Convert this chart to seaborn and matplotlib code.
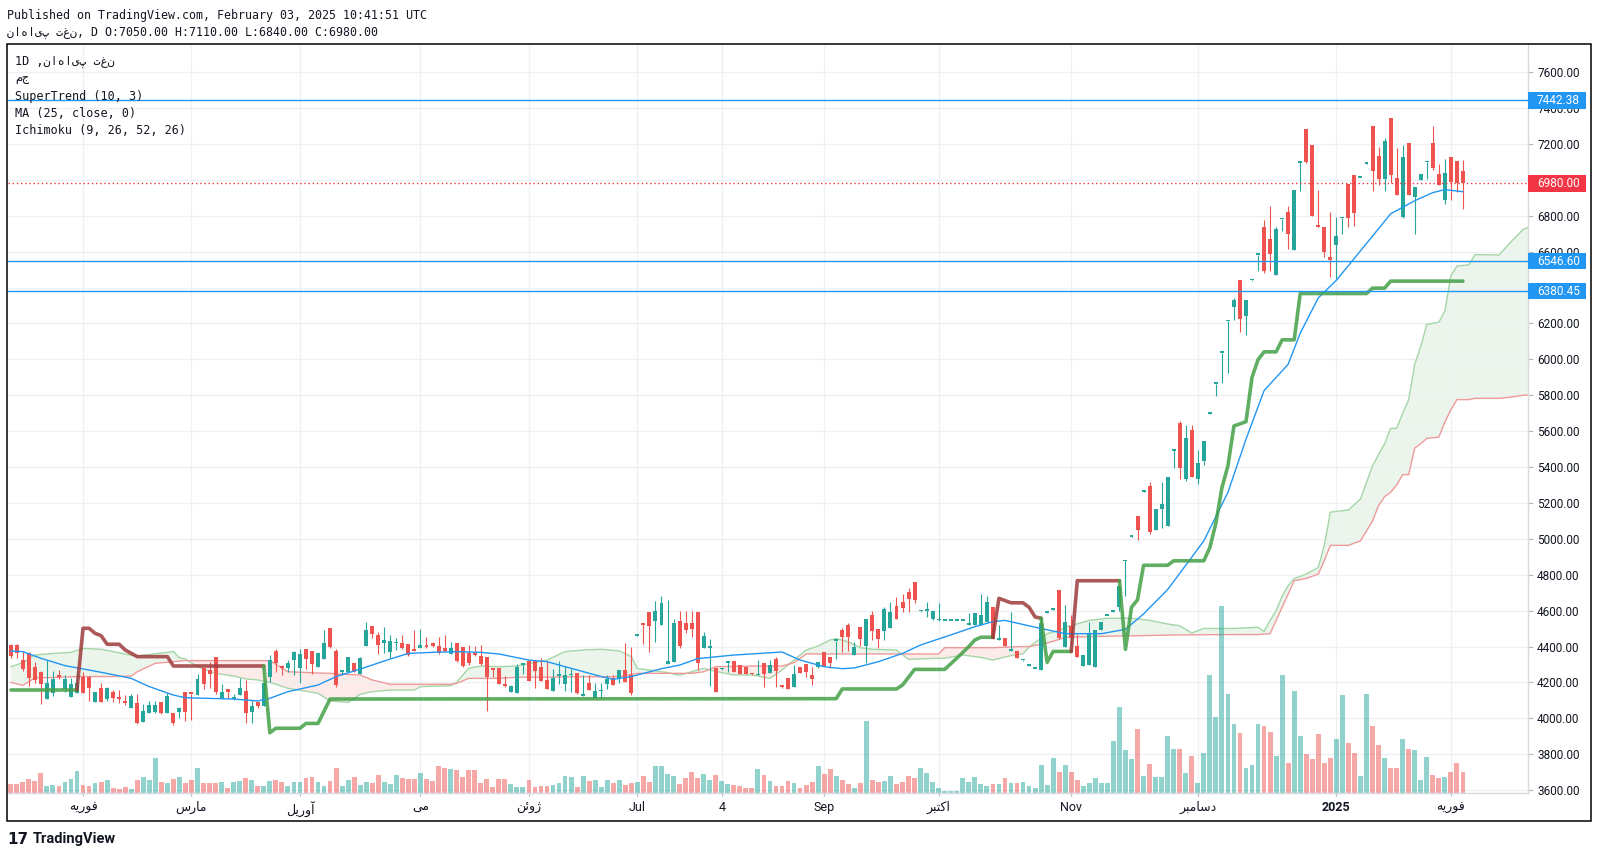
import numpy as np
import matplotlib
matplotlib.use("Agg")
import matplotlib.pyplot as plt
import seaborn as sns
from matplotlib.patches import Rectangle
from matplotlib.transforms import blended_transform_factory

# ---------------- data (daily bars, index 0..241) ----------------
opens = [4409, 4409, 4325, 4364, 4286, 4259, 4110, 4143, 4242, 4162,
         4121, 4142, 4233, 4233, 4089, 4168, 4110, 4145, 4114, 4090,
         4056, 4084, 3978, 4028, 4037, 4091, 4028, 4030, 4037, 4145,
         4138, 4130, 4283, 4270, 4340, 4110, 4162, 4108, 4132, 4153,
         4037, 4091, 4071, 4233, 4374, 4285, 4283, 4325, 4279, 4387,
         4374, 4288, 4331, 4504, 4375, 4257, 4257, 4307, 4247, 4405,
         4515, 4465, 4418, 4372, 4418, 4418, 4413, 4388, 4390, 4409,
         4418, 4403, 4390, 4357, 4418, 4400, 4366, 4355, 4348, 4340,
         4283, 4283, 4183, 4145, 4140, 4300, 4318, 4318, 4285, 4214,
         4154, 4238, 4192, 4240, 4251, 4125, 4197, 4114, 4150, 4191,
         4223, 4218, 4270, 4242, 4461, 4530, 4593, 4544, 4522, 4305,
         4316, 4543, 4533, 4533, 4593, 4392, 4393, 4281, 4273, 4307,
         4320, 4296, 4288, 4247, 4240, 4307, 4255, 4329, 4178, 4225,
         4177, 4285, 4301, 4240, 4288, 4370, 4344, 4431, 4492, 4520,
         4355, 4511, 4403, 4576, 4498, 4489, 4505, 4626, 4648, 4702,
         4760, 4596, 4600, 4552, 4546, 4541, 4541, 4541, 4541, 4518,
         4518, 4520, 4539, 4619, 4436, 4447, 4378, 4373, 4323, 4293,
         4274, 4270, 4588, 4606, 4718, 4398, 4514, 4403, 4294, 4299,
         4287, 4491, 4569, 4594, 4619, 4875, 5012, 5129, 5263, 5294,
         5050, 5166, 5070, 5490, 5646, 5333, 5609, 5333, 5432, 5696,
         5862, 6035, 6212, 6293, 6441, 6239, 6440, 6581, 6737, 6670,
         6471, 6780, 6823, 6609, 7096, 7283, 7192, 6744, 6737, 6572,
         6638, 6785, 6978, 7027, 7011, 7090, 7303, 7131, 7007, 7345,
         7012, 6796, 7204, 6904, 7002, 7098, 7204, 7032, 6889, 7126,
         7106, 7050]
highs = [4415, 4412, 4375, 4370, 4316, 4262, 4325, 4264, 4268, 4242,
         4223, 4264, 4257, 4236, 4147, 4195, 4175, 4158, 4158, 4130,
         4136, 4134, 4078, 4097, 4097, 4091, 4143, 4030, 4065, 4145,
         4138, 4246, 4283, 4316, 4340, 4190, 4162, 4138, 4223, 4214,
         4102, 4091, 4195, 4351, 4387, 4298, 4325, 4375, 4385, 4387,
         4374, 4372, 4494, 4504, 4386, 4264, 4342, 4307, 4344, 4535,
         4515, 4479, 4507, 4465, 4446, 4465, 4413, 4493, 4498, 4455,
         4424, 4455, 4464, 4427, 4418, 4400, 4409, 4405, 4409, 4340,
         4283, 4283, 4236, 4186, 4303, 4303, 4318, 4325, 4335, 4320,
         4275, 4320, 4292, 4277, 4251, 4240, 4240, 4195, 4195, 4240,
         4240, 4270, 4418, 4400, 4466, 4530, 4593, 4654, 4682, 4660,
         4552, 4598, 4598, 4598, 4593, 4483, 4440, 4281, 4280, 4320,
         4320, 4296, 4288, 4248, 4325, 4307, 4325, 4344, 4180, 4225,
         4296, 4285, 4301, 4288, 4316, 4370, 4344, 4433, 4502, 4533,
         4427, 4511, 4554, 4600, 4498, 4622, 4650, 4675, 4691, 4725,
         4760, 4600, 4647, 4600, 4641, 4543, 4543, 4543, 4543, 4589,
         4589, 4693, 4682, 4619, 4520, 4447, 4590, 4373, 4326, 4296,
         4277, 4558, 4600, 4612, 4718, 4632, 4575, 4472, 4353, 4538,
         4491, 4538, 4572, 4597, 4735, 4880, 5015, 5129, 5266, 5318,
         5168, 5318, 5346, 5493, 5658, 5636, 5633, 5498, 5547, 5699,
         5864, 6037, 6214, 6343, 6441, 6330, 6443, 6584, 6774, 6852,
         6737, 6784, 6852, 6941, 7098, 7283, 7192, 6941, 6737, 6823,
         6791, 6787, 6978, 7027, 7013, 7092, 7303, 7185, 7234, 7345,
         7175, 7192, 7204, 6963, 7032, 7100, 7303, 7089, 7118, 7126,
         7106, 7110]
lows = [4335, 4335, 4264, 4180, 4195, 4082, 4110, 4127, 4220, 4149,
        4121, 4142, 4143, 4097, 4089, 4093, 4097, 4093, 4084, 4075,
        4056, 3967, 3978, 4028, 4028, 4022, 4028, 3963, 4004, 3985,
        3991, 4130, 4162, 4167, 4138, 4110, 4112, 4101, 4132, 3976,
        3976, 4060, 4071, 4201, 4260, 4242, 4257, 4242, 4195, 4275,
        4247, 4288, 4331, 4394, 4177, 4242, 4257, 4257, 4247, 4405,
        4450, 4357, 4362, 4335, 4381, 4387, 4349, 4375, 4390, 4394,
        4400, 4357, 4372, 4357, 4316, 4288, 4297, 4347, 4297, 4043,
        4233, 4193, 4175, 4145, 4140, 4245, 4208, 4171, 4208, 4166,
        4154, 4192, 4155, 4147, 4136, 4125, 4158, 4114, 4114, 4162,
        4186, 4196, 4205, 4130, 4458, 4414, 4372, 4427, 4522, 4305,
        4316, 4394, 4478, 4455, 4270, 4392, 4182, 4149, 4270, 4260,
        4260, 4249, 4245, 4244, 4240, 4173, 4255, 4173, 4172, 4162,
        4177, 4255, 4232, 4186, 4279, 4292, 4279, 4329, 4372, 4377,
        4355, 4403, 4310, 4437, 4390, 4437, 4505, 4552, 4595, 4595,
        4641, 4594, 4567, 4550, 4545, 4540, 4540, 4540, 4540, 4518,
        4518, 4520, 4539, 4442, 4434, 4405, 4375, 4336, 4322, 4292,
        4273, 4270, 4588, 4606, 4442, 4398, 4410, 4344, 4294, 4299,
        4287, 4491, 4568, 4593, 4600, 4680, 5011, 4996, 5262, 5030,
        5050, 5062, 5070, 5395, 5333, 5321, 5343, 5304, 5410, 5695,
        5796, 5870, 5924, 6220, 6151, 6138, 6439, 6490, 6483, 6490,
        6471, 6717, 6613, 6609, 6938, 7094, 6798, 6735, 6572, 6458,
        6446, 6700, 6737, 6744, 7010, 7089, 6938, 6971, 6938, 6983,
        6914, 6786, 6914, 6700, 7002, 7007, 7057, 6971, 6865, 6889,
        6933, 6840]
closes = [4348, 4366, 4277, 4227, 4214, 4192, 4197, 4220, 4231, 4220,
          4192, 4197, 4143, 4171, 4147, 4093, 4168, 4114, 4110, 4088,
          4127, 3973, 4041, 4075, 4075, 4028, 4125, 3973, 4056, 4037,
          4135, 4220, 4190, 4249, 4147, 4147, 4145, 4119, 4168, 4032,
          4069, 4071, 4195, 4323, 4310, 4283, 4307, 4368, 4357, 4329,
          4303, 4362, 4418, 4400, 4186, 4264, 4342, 4260, 4336, 4492,
          4468, 4409, 4437, 4431, 4420, 4390, 4353, 4377, 4409, 4400,
          4405, 4362, 4375, 4394, 4320, 4294, 4307, 4353, 4301, 4233,
          4270, 4193, 4182, 4180, 4288, 4303, 4208, 4266, 4208, 4166,
          4225, 4240, 4240, 4245, 4143, 4132, 4158, 4151, 4151, 4218,
          4186, 4270, 4205, 4143, 4463, 4518, 4517, 4598, 4643, 4320,
          4530, 4403, 4492, 4500, 4310, 4459, 4395, 4149, 4276, 4320,
          4260, 4249, 4245, 4245, 4242, 4247, 4296, 4266, 4176, 4162,
          4247, 4255, 4260, 4218, 4316, 4292, 4307, 4431, 4455, 4452,
          4396, 4442, 4554, 4489, 4440, 4610, 4595, 4552, 4617, 4665,
          4658, 4598, 4602, 4598, 4547, 4541, 4541, 4541, 4541, 4533,
          4585, 4576, 4648, 4442, 4437, 4405, 4380, 4336, 4324, 4294,
          4275, 4533, 4590, 4607, 4447, 4538, 4447, 4344, 4353, 4472,
          4491, 4538, 4570, 4595, 4735, 4878, 5013, 5050, 5264, 5038,
          5168, 5195, 5346, 5493, 5395, 5562, 5343, 5424, 5547, 5697,
          5862, 6035, 6212, 6330, 6227, 6330, 6441, 6582, 6495, 6589,
          6724, 6782, 6700, 6941, 7096, 7101, 6798, 6740, 6596, 6552,
          6687, 6786, 6786, 6818, 7012, 7091, 7049, 7007, 7217, 7027,
          6914, 7126, 6914, 6963, 7032, 7099, 7064, 6971, 7039, 6988,
          6983, 6980]
# volume, relative units (bar heights)
volume = [9, 9, 11, 14, 12, 20, 7, 8, 7, 11, 14, 22, 8, 7, 10, 11, 13, 5, 4, 6,
          4, 13, 16, 13, 35, 11, 10, 14, 16, 10, 13, 25, 10, 10, 10, 11, 5, 11, 12, 15,
          13, 7, 7, 12, 13, 11, 7, 11, 11, 15, 16, 11, 7, 12, 25, 7, 13, 16, 8, 11,
          10, 18, 11, 9, 18, 15, 14, 14, 20, 14, 12, 27, 25, 24, 23, 16, 23, 23, 10, 14,
          6, 14,
          14, 9, 6, 6, 13, 6, 7, 7, 8, 10, 17, 16, 6, 17, 12, 13, 6, 13, 10, 13,
          8, 10, 11, 17, 11, 27, 27, 19, 17, 9, 15, 21, 15, 19, 13, 18, 12, 9, 8, 7,
          5, 5, 24, 18, 12, 7, 7, 12, 10, 5, 8, 11, 27, 19, 24, 17, 13, 9, 5, 10,
          72, 13, 11, 12, 17, 9, 11, 17, 15, 25, 20, 11, 5, 2, 2, 2, 15, 11, 16, 9,
          7, 9, 9,
          15, 10, 10, 11, 7, 5, 28, 8, 35, 21, 28, 21, 13, 7, 10, 15, 10, 10, 52, 86,
          43, 34, 64, 17, 29, 16, 16, 57, 44, 44, 20, 37, 10, 40, 118, 76, 187, 99, 69, 60,
          25, 28, 69, 67, 61, 37, 118, 30, 102, 57, 39, 34, 59, 30, 35, 54, 98, 50, 40, 17,
          99, 67, 48, 35, 25, 25, 54, 44, 43, 13, 36, 18, 15, 16, 21, 30, 21]

# MA (25, close) read at bar positions
ma_bar = [0, 2, 5, 9, 15, 20, 23, 27, 29, 37, 41, 43, 46, 51, 54, 58, 63, 66, 70, 74,
          78, 81, 86, 89, 93, 98, 100, 103, 108, 111, 114, 120, 123, 128, 131, 135, 138, 140, 144, 148,
          151, 156, 160, 163, 165, 170, 175, 181, 185, 188, 192, 195, 198, 202, 205, 208, 212, 214, 217, 220,
          223, 226, 229, 233, 236, 238, 241]
ma_val = [4375, 4372, 4335, 4294, 4257, 4223, 4177, 4130, 4115, 4108, 4097, 4112, 4149, 4186, 4233, 4275, 4331, 4362, 4368, 4372,
          4368, 4359, 4325, 4316, 4279, 4233, 4218, 4233, 4277, 4297, 4333, 4353, 4359, 4370, 4325, 4288, 4277, 4281, 4316, 4362,
          4409, 4465, 4511, 4539, 4546, 4508, 4472, 4472, 4496, 4582, 4718, 4853, 4989, 5259, 5555, 5826, 5973, 6146, 6343, 6441,
          6564, 6687, 6811, 6884, 6929, 6946, 6934]

# SuperTrend (10, 3): turning points, direction 1 = up (green), -1 = down (red)
st_bar = [0, 11, 12, 13, 14, 15, 16, 18, 19, 21, 26, 27, 42, 43, 44, 48, 49, 51, 53, 137,
          138, 147, 148, 150, 155, 157, 159, 160, 161, 163, 164, 166, 168, 169, 170, 171, 172, 173, 176, 177,
          184, 185, 186, 187, 188, 192, 193, 198, 199, 200, 201, 202, 203, 205, 206, 207, 208, 210, 211, 213,
          214, 225, 226, 228, 229, 241]
st_val = [4160, 4160, 4502, 4502, 4474, 4461, 4413, 4413, 4381, 4344, 4344, 4292, 4292, 3920, 3945, 3945, 3972, 3972, 4108, 4110,
          4164, 4164, 4186, 4273, 4273, 4335, 4400, 4437, 4452, 4452, 4669, 4644, 4644, 4619, 4565, 4558, 4312, 4373, 4373, 4767,
          4767, 4385, 4619, 4661, 4853, 4853, 4878, 4878, 4952, 5087, 5284, 5407, 5629, 5653, 5900, 5998, 6042, 6042, 6109, 6109,
          6367, 6367, 6397, 6397, 6436, 6436]
st_dir = [1, 1, -1, -1, -1, -1, -1, -1, -1, -1, -1, -1, -1, 1, 1, 1, 1, 1, 1, 1,
          1, 1, 1, 1, 1, 1, 1, 1, 1, 1, -1, -1, -1, -1, -1, -1, 1, 1, 1, -1,
          -1, 1, 1, 1, 1, 1, 1, 1, 1, 1, 1, 1, 1, 1, 1, 1, 1, 1, 1, 1,
          1, 1, 1, 1, 1, 1]

# Ichimoku (9, 26, 52, 26) leading spans, already shifted 26 bars ahead
cloud_bar = [0, 2, 4, 7, 10, 12, 15, 17, 20, 21, 24, 27, 28, 29, 31, 34, 37, 39, 41, 43,
             46, 51, 53, 56, 58, 60, 63, 67, 68, 73, 74, 76, 78, 81, 84, 89, 92, 95, 98, 101,
             103, 104, 106, 109, 111, 113, 115, 117, 120, 123, 126, 128, 130, 132, 134, 136, 137, 139, 141, 143,
             147, 149, 154, 155, 158, 161, 163, 166, 168, 169, 172, 174, 175, 179, 182, 186, 189, 192, 194, 196,
             198, 203, 207, 208, 209, 210, 211, 212, 213, 215, 217, 218, 219, 222, 224, 226, 227, 228, 229, 230,
             231, 232, 233, 234, 235, 237, 238, 239, 240, 242, 243, 247, 249, 251, 252]
span_a = [4288, 4310, 4353, 4362, 4368, 4390, 4385, 4372, 4352, 4348, 4360, 4372, 4338, 4331, 4288, 4251, 4236, 4220, 4214, 4201,
          4168, 4140, 4097, 4089, 4134, 4149, 4158, 4158, 4177, 4182, 4201, 4279, 4292, 4288, 4292, 4325, 4372, 4381, 4385, 4376,
          4344, 4277, 4270, 4255, 4240, 4260, 4279, 4262, 4242, 4242, 4223, 4270, 4325, 4381, 4403, 4437, 4444, 4427, 4394, 4385,
          4381, 4329, 4335, 4335, 4353, 4340, 4325, 4350, 4360, 4398, 4472, 4490, 4508, 4546, 4558, 4558, 4546, 4526, 4516, 4476,
          4501, 4501, 4508, 4484, 4546, 4600, 4681, 4740, 4779, 4804, 4841, 4964, 5149, 5161, 5222, 5407, 5470, 5530, 5616, 5616,
          5700, 5776, 5973, 6072, 6195, 6207, 6269, 6466, 6520, 6527, 6584, 6582, 6656, 6725, 6736]
span_b = [4201, 4184, 4225, 4228, 4232, 4233, 4233, 4233, 4236, 4260, 4307, 4316, 4320, 4322, 4322, 4322, 4322, 4322, 4322, 4322,
          4260, 4253, 4251, 4245, 4242, 4214, 4190, 4190, 4190, 4190, 4195, 4223, 4223, 4223, 4229, 4230, 4231, 4232, 4232, 4233,
          4245, 4251, 4251, 4251, 4251, 4251, 4260, 4288, 4290, 4292, 4292, 4292, 4310, 4359, 4359, 4359, 4359, 4359, 4359, 4359,
          4359, 4359, 4359, 4394, 4394, 4394, 4394, 4398, 4400, 4400, 4420, 4440, 4452, 4455, 4458, 4460, 4462, 4464, 4465, 4466,
          4466, 4467, 4467, 4470, 4472, 4546, 4620, 4693, 4767, 4780, 4804, 4880, 4964, 4964, 4989, 5100, 5186, 5235, 5260, 5300,
          5358, 5358, 5506, 5530, 5560, 5567, 5650, 5720, 5776, 5776, 5783, 5783, 5790, 5800, 5802]

drawn_levels = [7442.38, 6546.60, 6380.45]
price_ticks = list(range(3600, 7601, 200))
month_bars = [12, 30, 48, 68, 86, 104, 118, 135, 154, 176, 197, 220, 239]
month_labels = ["فوریه", "مارس", "آوریل", "می", "ژوئن", "Jul", "4", "Sep",
                "اکتبر", "Nov", "دسامبر", "2025", "فوریه"]
ticker = "ناهایپ تغن"

# ---------------- simple Persian shaping (matplotlib has no bidi/shaping) ----------------
FORMS = {  # isolated, final, initial, medial
    'ا': (0xFE8D, 0xFE8E, None, None), 'آ': (0xFE81, 0xFE82, None, None),
    'ب': (0xFE8F, 0xFE90, 0xFE91, 0xFE92), 'ت': (0xFE95, 0xFE96, 0xFE97, 0xFE98),
    'د': (0xFEA9, 0xFEAA, None, None), 'ر': (0xFEAD, 0xFEAE, None, None),
    'ژ': (0xFB8A, 0xFB8B, None, None), 'س': (0xFEB1, 0xFEB2, 0xFEB3, 0xFEB4),
    'ف': (0xFED1, 0xFED2, 0xFED3, 0xFED4), 'ک': (0xFB8E, 0xFB8F, 0xFB90, 0xFB91),
    'ل': (0xFEDD, 0xFEDE, 0xFEDF, 0xFEE0), 'م': (0xFEE1, 0xFEE2, 0xFEE3, 0xFEE4),
    'ن': (0xFEE5, 0xFEE6, 0xFEE7, 0xFEE8), 'و': (0xFEED, 0xFEEE, None, None),
    'ه': (0xFEE9, 0xFEEA, 0xFEEB, 0xFEEC), 'ی': (0xFBFC, 0xFBFD, 0xFBFE, 0xFBFF),
    'ئ': (0xFE89, 0xFE8A, 0xFE8B, 0xFE8C),
}


def shape(word):
    if not any(ch in FORMS for ch in word):
        return word
    out = []
    for i, ch in enumerate(word):
        f = FORMS.get(ch)
        if f is None:
            out.append(ch)
            continue
        prev = FORMS.get(word[i - 1]) if i > 0 else None
        nxt = word[i + 1] if i + 1 < len(word) else None
        jp = prev is not None and prev[2] is not None
        jn = nxt in FORMS and f[2] is not None
        cp = f[3] if (jp and jn) else f[1] if jp else f[2] if jn else f[0]
        out.append(chr(cp))
    return ''.join(reversed(out))


# ---------------- style ----------------
sns.set_theme(style="white")
plt.rcParams['font.family'] = ['Roboto', 'DejaVu Sans']
UP, DOWN = '#26A69A', '#EF5350'
TXT = '#131722'
MONO = ['DejaVu Sans Mono', 'DejaVu Sans']

W, H = 1598, 858
fig = plt.figure(figsize=(W / 100, H / 100), dpi=100)
fig.patch.set_facecolor('white')


def fx(px):
    return px / W


def fy(py):
    return 1 - py / H


ax = fig.add_axes([fx(8), fy(793), fx(1528) - fx(8), fy(44) - fy(793)])
ax.set_facecolor('white')

bars = np.arange(len(closes))
o = np.array(opens, float)
c = np.array(closes, float)
up = c >= o
cols = np.where(up, UP, DOWN)

# ichimoku cloud
a = np.array(span_a, float)
b = np.array(span_b, float)
ax.fill_between(cloud_bar, a, b, where=a >= b, interpolate=True, color='#43A047', alpha=0.1, lw=0, zorder=0.5)
ax.fill_between(cloud_bar, a, b, where=a < b, interpolate=True, color='#F44336', alpha=0.1, lw=0, zorder=0.5)
sns.lineplot(x=cloud_bar, y=span_a, ax=ax, color='#A5D6A7', lw=1, estimator=None, sort=False, zorder=0.6)
sns.lineplot(x=cloud_bar, y=span_b, ax=ax, color='#EF9A9A', lw=1, estimator=None, sort=False, zorder=0.6)

# volume overlay in the bottom of the pane
vol_top = 749.0
vtrans = blended_transform_factory(ax.transData, ax.transAxes)
ax.bar(bars, np.array(volume) / vol_top, width=0.8, bottom=0, color=cols, alpha=0.5,
       transform=vtrans, zorder=1, lw=0)

# candles
ax.vlines(bars, lows, highs, colors=cols, lw=0.8, zorder=3)
body = np.maximum(np.abs(c - o), 10)
ax.bar(bars, body, bottom=np.minimum(o, c), width=0.66, color=cols, lw=0, zorder=3.1)

# moving average
sns.lineplot(x=ma_bar, y=ma_val, ax=ax, color='#2196F3', lw=1, estimator=None, sort=False, zorder=4)

# supertrend, coloured by trend
start = 0
for k in range(1, len(st_bar) + 1):
    if k == len(st_bar) or st_dir[k] != st_dir[start + 1 if start + 1 < len(st_dir) else start]:
        seg = slice(start, k)
        d = st_dir[k - 1]
        ax.plot(st_bar[seg], st_val[seg], color='#43A047' if d > 0 else '#9E3B3B',
                lw=2.6, alpha=0.85, solid_capstyle='round', solid_joinstyle='round', zorder=4.5)
        start = k - 1

# drawn horizontal levels and last price
for lv in drawn_levels:
    ax.axhline(lv, color='#2196F3', lw=1, zorder=5)
ax.axhline(closes[-1], color='#F23645', lw=1, ls=(0, (1, 2)), zorder=5)

# axes
ax.set_xlim(-0.45, 251.8)
ax.set_ylim(3584.4, 7757.1)
ax.yaxis.tick_right()
ax.set_yticks(price_ticks)
ax.set_yticklabels([f"{v:.2f}" for v in price_ticks], fontsize=8.5, color=TXT)
ax.set_xticks(month_bars)
ax.set_xticklabels([shape(m) for m in month_labels], fontsize=9, color=TXT)
for t in ax.get_xticklabels():
    if t.get_text() == '2025':
        t.set_fontweight('bold')
ax.tick_params(axis='y', which='both', right=True, left=False, length=3.6, width=0.8,
               color='#B2B5BE', pad=2.9)
ax.tick_params(axis='x', which='both', bottom=True, length=2.2, width=0.8, color='#B2B5BE', pad=3.6)
ax.grid(True, color='#EEF0F4', lw=1, zorder=0)
ax.set_axisbelow(True)
for s in ['top', 'left']:
    ax.spines[s].set_visible(False)
for s in ['right', 'bottom']:
    ax.spines[s].set_color('#D6D9E0')
    ax.spines[s].set_linewidth(1)

# price tags on the scale
ltrans = blended_transform_factory(ax.transAxes, ax.transData)
for lv, fc in [(drawn_levels[0], '#2196F3'), (drawn_levels[1], '#2196F3'),
               (drawn_levels[2], '#2196F3'), (closes[-1], '#F23645')]:
    ax.add_patch(Rectangle((1.0, lv - 45), 58 / 1520, 90, transform=ltrans, clip_on=False,
                           fc=fc, ec='none', zorder=6))
    ax.text(1.0 + 9 / 1520, lv, f"{lv:.2f}", transform=ltrans, va='center', ha='left',
            color='white', fontsize=8.5, zorder=7, clip_on=False)

# outer frame
fig.patches.append(Rectangle((fx(7), fy(821)), fx(1591) - fx(7), fy(43.5) - fy(821),
                             transform=fig.transFigure, fill=False, ec='black', lw=1.1))

# header
fig.text(fx(7), fy(15), "Published on TradingView.com, February 03, 2025 10:41:51 UTC",
         family=MONO, fontsize=8.4, va='center', ha='left', color=TXT)
fig.text(fx(7), fy(32.3),
         f"{ticker}, D O:{opens[-1]:.2f} H:{highs[-1]:.2f} L:{lows[-1]:.2f} C:{closes[-1]:.2f}",
         family=MONO, fontsize=8.4, va='center', ha='left', color=TXT)

# legend block
legend_lines = [f"1D ,{ticker}", "مج", "SuperTrend (10, 3)", "MA (25, close, 0)", "Ichimoku (9, 26, 52, 26)"]
for txt, yy in zip(legend_lines, [61.7, 78.3, 96.7, 113.3, 131]):
    fig.text(fx(15), fy(yy), txt, family=MONO, fontsize=8.5, va='center', ha='left', color=TXT)

# footer logo
fig.text(fx(7), fy(839), "17", fontsize=11, fontweight='bold', va='center', ha='left', color=TXT,
         family=['DejaVu Sans'])
fig.text(fx(33), fy(839), "TradingView", fontsize=10.5, fontweight='bold', va='center', ha='left', color=TXT)

fig.savefig("out.png", dpi=100, facecolor='white')
